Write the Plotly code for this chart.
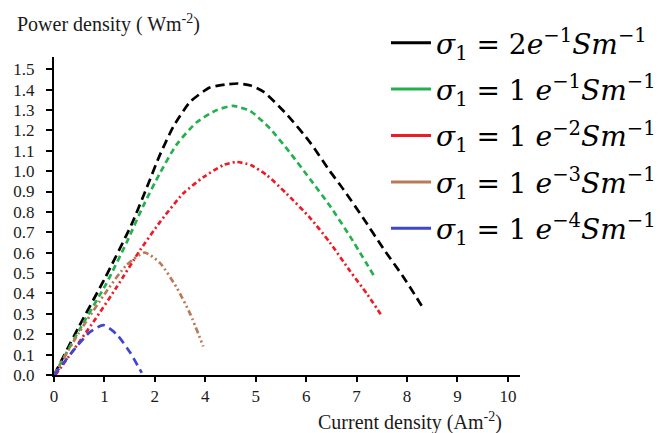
import plotly.graph_objects as go

# x values are in axis-position units (ticks evenly spaced, labelled as in the reference)
tick_pos = [0, 1, 2, 3, 4, 5, 6, 7, 8, 9]
tick_text = ["0", "1", "2", "4", "5", "6", "7", "8", "9", "10"]
y_ticks = [0.0, 0.1, 0.2, 0.3, 0.4, 0.5, 0.6, 0.7, 0.8, 0.9, 1.0, 1.1, 1.2, 1.3, 1.4, 1.5]

black_x = [0, 0.5, 1.0, 1.54, 1.84, 2.10, 2.37, 2.70, 3.09, 3.40, 3.65, 3.90, 4.15, 4.61, 5.08, 5.47, 5.74, 6.13, 6.53, 6.93, 7.29]
black_y = [0, 0.24, 0.47, 0.74, 0.92, 1.08, 1.22, 1.34, 1.41, 1.425, 1.43, 1.42, 1.39, 1.28, 1.14, 1.00, 0.91, 0.77, 0.62, 0.48, 0.34]

green_x = [0, 0.5, 1.04, 1.44, 1.77, 2.10, 2.43, 2.83, 3.23, 3.55, 3.89, 4.28, 4.68, 5.08, 5.47, 5.87, 6.36]
green_y = [0, 0.22, 0.45, 0.65, 0.83, 0.99, 1.13, 1.24, 1.30, 1.32, 1.295, 1.21, 1.09, 0.96, 0.83, 0.68, 0.48]

red_x = [0.03, 0.78, 1.24, 1.70, 2.10, 2.56, 2.96, 3.36, 3.62, 3.90, 4.22, 4.61, 5.08, 5.47, 5.87, 6.20, 6.50]
red_y = [0, 0.26, 0.43, 0.61, 0.75, 0.89, 0.97, 1.03, 1.045, 1.03, 0.98, 0.89, 0.77, 0.65, 0.51, 0.40, 0.29]

brown_x = [0, 0.5, 1.04, 1.44, 1.80, 2.10, 2.43, 2.70, 2.96]
brown_y = [0, 0.21, 0.41, 0.54, 0.60, 0.55, 0.43, 0.30, 0.14]

blue_x = [0, 0.45, 0.71, 0.98, 1.24, 1.51, 1.74]
blue_y = [0, 0.14, 0.21, 0.245, 0.20, 0.11, 0.01]

names = [
    "<i>σ</i><sub>1</sub> = 2<i>e</i><sup>−1</sup><i>Sm</i><sup>−1</sup>",
    "<i>σ</i><sub>1</sub> = 1 <i>e</i><sup>−1</sup><i>Sm</i><sup>−1</sup>",
    "<i>σ</i><sub>1</sub> = 1 <i>e</i><sup>−2</sup><i>Sm</i><sup>−1</sup>",
    "<i>σ</i><sub>1</sub> = 1 <i>e</i><sup>−3</sup><i>Sm</i><sup>−1</sup>",
    "<i>σ</i><sub>1</sub> = 1 <i>e</i><sup>−4</sup><i>Sm</i><sup>−1</sup>",
]
colors = ["#000000", "#22b14c", "#ed1c24", "#b97a57", "#3f48cc"]
dashes = ["9px,5px", "6px,4px", "5px,3px,2px,3px", "6px,3px,2px,3px,2px,3px", "8px,5px"]
series = [(black_x, black_y), (green_x, green_y), (red_x, red_y), (brown_x, brown_y), (blue_x, blue_y)]

fig = go.Figure()
for (xs, ys), c, d in zip(series, colors, dashes):
    fig.add_trace(go.Scatter(x=xs, y=ys, mode="lines", showlegend=False,
                             line=dict(color=c, width=2.7, dash=d, shape="spline", smoothing=0.6)))
for i, (n, c) in enumerate(zip(names, colors)):
    fig.add_trace(go.Scatter(x=[None], y=[None], mode="lines", name=n, legendgroup=str(i),
                             line=dict(color=c, width=3)))

PW, PH = 466, 318  # plot area in px (left edge at 54, top at 57 on the page)

fig.update_layout(
    width=662, height=433,
    margin=dict(l=46, r=150, t=49, b=66, autoexpand=False),
    paper_bgcolor="white", plot_bgcolor="white",
    showlegend=True,
    legend=dict(x=(386-54)/PW, xanchor="left", y=1 + (57-18)/PH, yanchor="top",
                font=dict(family="DejaVu Serif", size=28, color="#000"),
                bgcolor="rgba(0,0,0,0)", tracegroupgap=7, itemwidth=40,
                traceorder="grouped", maxheight=400),
    xaxis=dict(range=[0, 9.24], tickmode="array", tickvals=tick_pos, ticktext=tick_text,
               showgrid=False, zeroline=False, showline=True, linecolor="#000", linewidth=2,
               ticks="outside", ticklen=5, tickwidth=2, tickcolor="#000", automargin=False,
               tickfont=dict(family="Liberation Serif", size=17, color="#1a1a1a")),
    yaxis=dict(range=[0, 1.56], tickmode="array", tickvals=y_ticks,
               ticktext=[f"{v:.1f}" for v in y_ticks], automargin=False,
               showgrid=False, zeroline=False, showline=True, linecolor="#000", linewidth=2,
               ticks="outside", ticklen=6, tickwidth=2, tickcolor="#000", ticklabelstandoff=8,
               tickfont=dict(family="Liberation Serif", size=17, color="#1a1a1a")),
    annotations=[
        dict(text="Power density ( Wm<sup>-2</sup>)", xref="paper", yref="paper",
             x=(15-54)/PW, xanchor="left", y=1 + (57-24)/PH, yanchor="middle", showarrow=False,
             font=dict(family="Liberation Serif", size=20, color="#1a1a1a")),
        dict(text="Current density (Am<sup>-2</sup>)", xref="paper", yref="paper",
             x=(410-54)/PW, xanchor="center", y=-(421-375)/PH, yanchor="middle", showarrow=False,
             font=dict(family="Liberation Serif", size=20, color="#1a1a1a")),
    ],
)

fig.write_html("out.html")
